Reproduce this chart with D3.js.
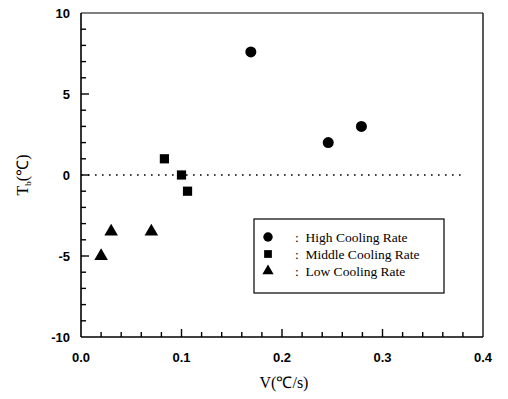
<!DOCTYPE html>
<html><head><meta charset="utf-8">
<script src="https://cdn.jsdelivr.net/npm/d3@7"></script>
<style>body{margin:0;background:#fff}</style>
</head><body>
<svg id="c" width="508" height="399"></svg>
<script>
const highV = [0.169, 0.246, 0.279];
const highT = [7.6, 2.0, 3.0];
const midV = [0.083, 0.100, 0.106];
const midT = [1.0, 0.0, -1.0];
const lowV = [0.020, 0.030, 0.070];
const lowT = [-5.0, -3.5, -3.5];
const xTicks = [0, 0.1, 0.2, 0.3, 0.4];
const xTickLabels = ["0.0", "0.1", "0.2", "0.3", "0.4"];
const yTicks = [-10, -5, 0, 5, 10];
const legendLabels = ["High Cooling Rate", "Middle Cooling Rate", "Low Cooling Rate"];

const svg = d3.select("#c");
const L = 81, R = 483, T = 13, B = 337;
const x = d3.scaleLinear().domain([0, 0.4]).range([L, R]);
const y = d3.scaleLinear().domain([-10, 10]).range([B, T]);

// frame
svg.append("line").attr("x1", L).attr("x2", R).attr("y1", T).attr("y2", T).attr("stroke", "#000").attr("stroke-width", 1.2);
svg.append("line").attr("x1", R).attr("x2", R).attr("y1", T).attr("y2", B).attr("stroke", "#000").attr("stroke-width", 1.3);
svg.append("line").attr("x1", L).attr("x2", R).attr("y1", B).attr("y2", B).attr("stroke", "#000").attr("stroke-width", 1.6);
svg.append("line").attr("x1", L).attr("x2", L).attr("y1", T).attr("y2", B).attr("stroke", "#000").attr("stroke-width", 1.6);

// inward ticks
const xMinor = d3.range(1, 20).map(i => i * 0.02);
svg.selectAll(".xt").data(xMinor).enter().append("line")
  .attr("x1", d => x(d)).attr("x2", d => x(d)).attr("y1", B)
  .attr("y2", (d, i) => B - ((i + 1) % 5 === 0 ? 8 : 5))
  .attr("stroke", "#000").attr("stroke-width", 1.4);
const yMinor = d3.range(-9, 10);
svg.selectAll(".yt").data(yMinor).enter().append("line")
  .attr("y1", d => y(d)).attr("y2", d => y(d)).attr("x1", L)
  .attr("x2", d => L + (d % 5 === 0 ? 8 : 5))
  .attr("stroke", "#000").attr("stroke-width", 1.4);

// tick labels
svg.selectAll(".xl").data(xTicks).enter().append("text")
  .attr("x", d => x(d)).attr("y", 362).attr("text-anchor", "middle")
  .attr("font-family", "Liberation Sans, Arial, sans-serif").attr("font-size", 13).attr("font-weight", "bold")
  .text((d, i) => xTickLabels[i]);
svg.selectAll(".yl").data(yTicks).enter().append("text")
  .attr("x", 70).attr("y", d => y(d) + 5).attr("text-anchor", "end")
  .attr("font-family", "Liberation Sans, Arial, sans-serif").attr("font-size", 13).attr("font-weight", "bold")
  .text(d => d);

// axis titles
svg.append("text").attr("x", 284).attr("y", 388).attr("text-anchor", "middle")
  .attr("font-family", "Liberation Serif, Times New Roman, serif").attr("font-size", 16)
  .text("V(℃/s)");
const ytitle = svg.append("text").attr("transform", "translate(28,175) rotate(-90)").attr("text-anchor", "middle")
  .attr("font-family", "Liberation Serif, Times New Roman, serif").attr("font-size", 16);
ytitle.append("tspan").text("T");
ytitle.append("tspan").attr("font-size", 9).attr("dy", 3).text("b");
ytitle.append("tspan").attr("dy", -3).text("(℃)");

// zero dotted line
svg.append("line").attr("x1", x(0)).attr("x2", x(0.38)).attr("y1", y(0)).attr("y2", y(0))
  .attr("stroke", "#000").attr("stroke-width", 1.6).attr("stroke-dasharray", "1.6,5.4");

// points
const circ = d3.symbol().type(d3.symbolCircle).size(95);
const sq = d3.symbol().type(d3.symbolSquare).size(85);
const tri = d3.symbol().type(d3.symbolTriangle).size(80);
svg.selectAll(".h").data(highV).enter().append("path").attr("d", circ)
  .attr("transform", (d, i) => `translate(${x(d)},${y(highT[i])})`).attr("fill", "#000");
svg.selectAll(".m").data(midV).enter().append("path").attr("d", sq)
  .attr("transform", (d, i) => `translate(${x(d)},${y(midT[i])})`).attr("fill", "#000");
svg.selectAll(".l").data(lowV).enter().append("path").attr("d", tri)
  .attr("transform", (d, i) => `translate(${x(d)},${y(lowT[i])})`).attr("fill", "#000");

// legend
svg.append("rect").attr("x", 254).attr("y", 219).attr("width", 190).attr("height", 74)
  .attr("fill", "#fff").attr("stroke", "#000").attr("stroke-width", 1.2);
const syms = [d3.symbol().type(d3.symbolCircle).size(70), d3.symbol().type(d3.symbolSquare).size(60), d3.symbol().type(d3.symbolTriangle).size(55)];
const ly = [237, 254, 271];
legendLabels.forEach((t, i) => {
  svg.append("path").attr("d", syms[i]).attr("transform", `translate(268,${ly[i]})`).attr("fill", "#000");
  svg.append("text").attr("x", 295).attr("y", ly[i] + 5)
    .attr("font-family", "Liberation Serif, Times New Roman, serif").attr("font-size", 13.5)
    .style("white-space", "pre")
    .text(":  " + t);
});
</script>
</body></html>
